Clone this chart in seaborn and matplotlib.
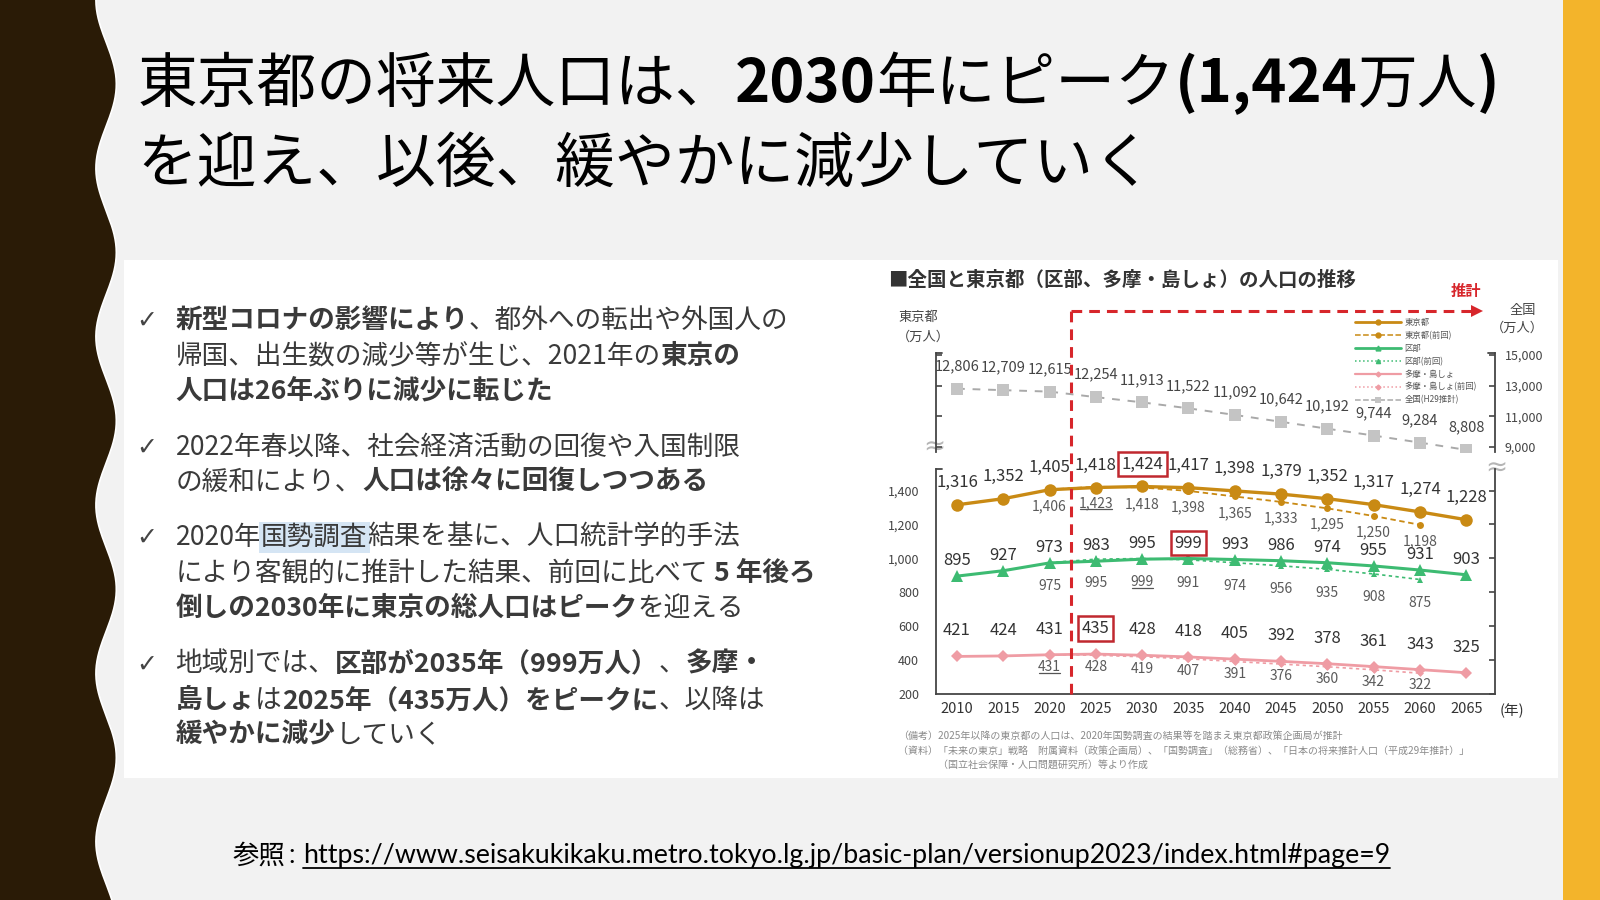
import numpy as np
import pandas as pd
import matplotlib
matplotlib.use("Agg")
import matplotlib.pyplot as plt
import matplotlib.transforms as mtrans
from matplotlib.ticker import StrMethodFormatter
import seaborn as sns
from matplotlib.lines import Line2D
from matplotlib.patches import Rectangle

sns.set_theme(style="white")
JP = ["Noto Sans CJK JP", "DejaVu Sans"]
plt.rcParams["font.family"] = JP

# ---- data (万人) ----
years = [2010, 2015, 2020, 2025, 2030, 2035, 2040, 2045, 2050, 2055, 2060, 2065]
prev_years = [2020, 2025, 2030, 2035, 2040, 2045, 2050, 2055, 2060]

tokyo = [1316, 1352, 1405, 1418, 1424, 1417, 1398, 1379, 1352, 1317, 1274, 1228]
tokyo_prev = [1406, 1423, 1418, 1398, 1365, 1333, 1295, 1250, 1198]
ku = [895, 927, 973, 983, 995, 999, 993, 986, 974, 955, 931, 903]
ku_prev = [975, 995, 999, 991, 974, 956, 935, 908, 875]
tama = [421, 424, 431, 435, 428, 418, 405, 392, 378, 361, 343, 325]
tama_prev = [431, 428, 419, 407, 391, 376, 360, 342, 322]
japan = [12806, 12709, 12615, 12254, 11913, 11522, 11092, 10642, 10192, 9744, 9284, 8808]

legend_labels = ["東京都", "東京都(前回)", "区部", "区部(前回)",
                 "多摩・島しょ", "多摩・島しょ(前回)", "全国(H29推計)"]
lo_ticks = [200, 400, 600, 800, 1000, 1200, 1400]
hi_ticks = [9000, 11000, 13000, 15000]
projection_start = 2022.3

ORANGE = "#c98a14"
GREEN = "#3dbb72"
PINK = "#ef9ca4"
GRAY = "#c4c4c4"
RED = "#d7262b"
BOXRED = "#c0282f"

W, H = 1568, 882   # reference pixel grid


def pt(px):
    return px * 1600 / W * 0.72


fig = plt.figure(figsize=(16, 9), dpi=100)
fig.patch.set_facecolor("#f2f2f2")

# background layer in reference pixel coordinates
bg = fig.add_axes([0, 0, 1, 1])
bg.set_xlim(0, W)
bg.set_ylim(H, 0)
bg.axis("off")

yy = np.linspace(0, H, 400)
edge = 104 - 10 * np.cos(2 * np.pi * yy / 165)
bg.fill_betweenx(yy, 0, edge, color="#2a1b06", lw=0)
bg.plot(edge, yy, color="white", lw=1.2)
bg.add_patch(Rectangle((1532, 0), W - 1532, H, color="#f3b42b", lw=0))
bg.add_patch(Rectangle((122, 255), 1527 - 122, 762 - 255, color="white", lw=0))

renderer = fig.canvas.get_renderer()
inv = bg.transData.inverted()


def runs(x, y, parts, size, color, family=JP):
    out = []
    for txt, style in parts:
        kw = {}
        if style == "hl":
            kw["bbox"] = dict(fc="#d5e5f4", ec="none", pad=1.5)
        t = bg.text(x, y, txt, fontsize=size, color=color, va="baseline", ha="left",
                    fontweight="bold" if style == "b" else "normal",
                    family=family, **kw)
        bb = t.get_window_extent(renderer)
        x = inv.transform((bb.x1, bb.y0))[0]
        out.append(t)
    return x, out


# ---- title ----
runs(135, 100, [("東京都の将来人口は、", "n"), ("2030", "b"), ("年にピーク", "n"),
                ("(1,424", "b"), ("万人", "n"), (")", "b")], 43, "black")
runs(135, 178, [("を迎え、以後、緩やかに減少していく", "n")], 43, "black")

# ---- bullet text ----
bullets = [
    [(321, [("新型コロナの影響により", "b"), ("、都外への転出や外国人の", "n")]),
     (357, [("帰国、出生数の減少等が生じ、2021年の", "n"), ("東京の", "b")]),
     (391, [("人口は26年ぶりに減少に転じた", "b")])],
    [(446, [("2022年春以降、社会経済活動の回復や入国制限", "n")]),
     (480, [("の緩和により、", "n"), ("人口は徐々に回復しつつある", "b")])],
    [(534, [("2020年", "n"), ("国勢調査", "hl"), ("結果を基に、人口統計学的手法", "n")]),
     (569, [("により客観的に推計した結果、前回に比べて", "n"), (" 5 年後ろ", "b")]),
     (604, [("倒しの2030年に東京の総人口はピーク", "b"), ("を迎える", "n")])],
    [(658, [("地域別では、", "n"), ("区部が2035年（999万人）", "b"), ("、", "n"), ("多摩・", "b")]),
     (694, [("島しょ", "b"), ("は", "n"), ("2025年（435万人）をピークに", "b"), ("、以降は", "n")]),
     (728, [("緩やかに減少", "b"), ("していく", "n")])],
]
for block in bullets:
    bg.text(134, block[0][0], "✓", fontsize=18, color="#444444", va="baseline",
            family=["DejaVu Sans"])
    for y, parts in block:
        runs(172, y, parts, 19.2, "#3a3a3a")

# ---- chart captions ----
bg.text(870, 280, "■全国と東京都（区部、多摩・島しょ）の人口の推移", fontsize=14,
        fontweight="bold", color="#333333", va="baseline")
bg.text(1437, 285, "推計", fontsize=11, fontweight="bold", color=RED, ha="center", va="center")
bg.text(900, 311, "東京都", fontsize=9.5, color="#444444", ha="center", va="center")
bg.text(905, 330, "（万人）", fontsize=9.5, color="#444444", ha="center", va="center")
bg.text(1492, 304, "全国", fontsize=9.5, color="#444444", ha="center", va="center")
bg.text(1487, 322, "（万人）", fontsize=9.5, color="#444444", ha="center", va="center")
bg.text(1470, 697, "(年)", fontsize=10.5, color="#333333", ha="left", va="center")
for bx, by in [(916, 438), (1466, 458)]:
    bg.text(bx, by, "≈", fontsize=19, color="#b5b5b5", ha="center", va="center",
            family=["DejaVu Sans"])

notes = [(880, 721, "（備考）2025年以降の東京都の人口は、2020年国勢調査の結果等を踏まえ東京都政策企画局が推計"),
         (880, 736, "（資料）「未来の東京」戦略　附属資料（政策企画局）、「国勢調査」（総務省）、「日本の将来推計人口（平成29年推計）」"),
         (880, 749, "　　　　（国立社会保障・人口問題研究所）等より作成")]
for nx, ny, nt in notes:
    bg.text(nx, ny, nt, fontsize=7.2, color="#8a8a8a", va="center")

# ---- reference url ----
x_end, _ = runs(228, 846, [("参照", "n")], 19, "black")
x_end, _ = runs(x_end + 4, 846, [(": ", "n")], 19, "black", family=["Lato", "DejaVu Sans"])
url_x0 = x_end
x_end, _ = runs(x_end, 846, [("https://www.seisakukikaku.metro.tokyo.lg.jp/basic-plan/versionup2023/index.html#page=9", "n")],
                19.3, "black", family=["Lato", "DejaVu Sans"])
bg.plot([url_x0, x_end], [851, 851], color="black", lw=1.3)

# ---- chart axes (broken y axis) ----
def rect(x0, y0, x1, y1):
    return [x0 / W, 1 - y1 / H, (x1 - x0) / W, (y1 - y0) / H]


HI = (917, 346, 1465, 443)
LO = (917, 460, 1465, 680)
ax_hi = fig.add_axes(rect(*HI))
ax_lo = fig.add_axes(rect(*LO))
xlim = (2007.7, 2068.1)

for ax in (ax_hi, ax_lo):
    ax.set_facecolor("none")
    ax.set_xlim(*xlim)
    for s in ax.spines.values():
        s.set_color("#454545")
        s.set_linewidth(1.3)
    ax.spines["top"].set_visible(False)
    ax.tick_params(direction="in", length=4, width=1.2, colors="#454545")

ax_hi.set_ylim(8667, 15133)
ax_lo.set_ylim(200, 1525)
ax_hi.spines["bottom"].set_visible(False)

# previous projections (dashed, small markers)
sns.lineplot(x=prev_years, y=tokyo_prev, ax=ax_lo, color=ORANGE, lw=1.3, linestyle=(0, (3, 2)),
             marker="o", markersize=5, markeredgewidth=0, zorder=3)
sns.lineplot(x=prev_years, y=ku_prev, ax=ax_lo, color=GREEN, lw=1.2, linestyle=(0, (2, 2)),
             marker="^", markersize=5, markeredgewidth=0, zorder=3)
sns.lineplot(x=prev_years, y=tama_prev, ax=ax_lo, color=PINK, lw=1.2, linestyle=(0, (2, 2)),
             marker="D", markersize=3.5, markeredgewidth=0, zorder=3)
# current series
sns.lineplot(x=years, y=tokyo, ax=ax_lo, color=ORANGE, lw=2.4, marker="o", markersize=9,
             markeredgewidth=0, zorder=4)
sns.lineplot(x=years, y=ku, ax=ax_lo, color=GREEN, lw=2.2, marker="^", markersize=8.5,
             markeredgewidth=0, zorder=4)
sns.lineplot(x=years, y=tama, ax=ax_lo, color=PINK, lw=2.0, marker="D", markersize=6,
             markeredgewidth=0, zorder=4)
sns.lineplot(x=years, y=japan, ax=ax_hi, color="#a9a9a9", lw=1.4, linestyle=(0, (4, 4)),
             marker="s", markersize=8, markerfacecolor=GRAY, markeredgewidth=0, zorder=4)

for ax in (ax_hi, ax_lo):
    ax.set_xlabel("")
    ax.set_ylabel("")

ax_lo.set_xticks(years)
ax_lo.set_xticklabels([str(y) for y in years], fontsize=10.5, color="#333333")
ax_lo.tick_params(axis="x", pad=6)
ax_lo.set_yticks(lo_ticks)
ax_lo.set_yticklabels([f"{v:,}" for v in lo_ticks], fontsize=9, color="#444444")
ax_lo.tick_params(axis="y", pad=12, right=True, labelright=False)

ax_hi.set_xticks([])
ax_hi.set_yticks(hi_ticks)
ax_hi.yaxis.set_major_formatter(StrMethodFormatter("{x:,.0f}"))
ax_hi.tick_params(axis="y", left=True, right=True, labelleft=False, labelright=True,
                  pad=7, labelsize=9, labelcolor="#444444")

# bracket caps
ax_hi.plot([0, 0.012], [1, 1], transform=ax_hi.transAxes, color="#454545", lw=1.3, clip_on=False)
ax_hi.plot([0.988, 1], [1, 1], transform=ax_hi.transAxes, color="#454545", lw=1.3, clip_on=False)
ax_lo.plot([0, 0.012], [1, 1], transform=ax_lo.transAxes, color="#454545", lw=1.3, clip_on=False)


# value labels
def label_series(ax, xs, vals, dy_px, size, color, boxed=False, underline=False):
    texts = []
    peak = int(np.argmax(vals))
    for i, (x, v) in enumerate(zip(xs, vals)):
        kw = {}
        if boxed and i == peak:
            kw["bbox"] = dict(boxstyle="square,pad=0.22", fc="white", ec=BOXRED, lw=1.8)
        t = ax.annotate(f"{v:,}", (x, v), xytext=(0, pt(dy_px)), textcoords="offset points",
                        ha="center", va="center", fontsize=size, color=color,
                        annotation_clip=False, zorder=6, **kw)
        texts.append(t)
    if underline:
        t = texts[peak]
        bb = t.get_window_extent(renderer)
        (x0, y0), (x1, _) = inv.transform([(bb.x0, bb.y0), (bb.x1, bb.y0)])
        bg.plot([x0 + 1, x1 - 1], [y0 - 1, y0 - 1], color="#555555", lw=0.9, zorder=7)
    return texts


label_series(ax_lo, years, tokyo, 22, 12, "#333333", boxed=True)
label_series(ax_lo, prev_years, tokyo_prev, -16, 10, "#5a5a5a", underline=True)
label_series(ax_lo, years, ku, 15, 12, "#333333", boxed=True)
label_series(ax_lo, prev_years, ku_prev, -23, 10, "#5a5a5a", underline=True)
label_series(ax_lo, years, tama, 25, 12, "#333333", boxed=True)
label_series(ax_lo, prev_years, tama_prev, -12, 10, "#5a5a5a", underline=True)
label_series(ax_hi, years, japan, 22, 10.5, "#444444")

# projection marker: dashed red frame with arrow
top_lo = (LO[3] - 305) / (LO[3] - LO[1])
ax_lo.axvline(projection_start, 0, top_lo, color=RED, lw=2.2, linestyle=(0, (3.5, 2.3)),
              clip_on=False, zorder=5)
arrow_y = (HI[3] - 305) / (HI[3] - HI[1])
blend = mtrans.blended_transform_factory(ax_hi.transData, ax_hi.transAxes)
ax_hi.plot([projection_start, 2065.6], [arrow_y, arrow_y], transform=blend, color=RED, lw=2.2,
           linestyle=(0, (3.5, 2.3)), clip_on=False)
ax_hi.plot([2066.2], [arrow_y], transform=blend, marker=">", color=RED, markersize=8,
           markeredgewidth=0, clip_on=False)

# legend
handles = [
    Line2D([], [], color=ORANGE, lw=2, marker="o", ms=3.5),
    Line2D([], [], color=ORANGE, lw=1.1, ls="--", marker="o", ms=3.5),
    Line2D([], [], color=GREEN, lw=2, marker="^", ms=3.5),
    Line2D([], [], color=GREEN, lw=1.1, ls=":", marker="^", ms=3),
    Line2D([], [], color=PINK, lw=1.6, marker="D", ms=2.5),
    Line2D([], [], color=PINK, lw=1.1, ls=":", marker="D", ms=2.5),
    Line2D([], [], color="#a9a9a9", lw=1.1, ls="--", marker="s", ms=4, markerfacecolor=GRAY,
           markeredgewidth=0),
]
fig.legend(handles, legend_labels, loc="upper left", bbox_to_anchor=(1328 / W, 1 - 312 / H),
           frameon=False, fontsize=6, handlelength=5.5, labelspacing=0.45, handletextpad=0.4,
           borderpad=0, borderaxespad=0, labelcolor="#555555")

fig.savefig("out.png", dpi=100, facecolor=fig.get_facecolor())
